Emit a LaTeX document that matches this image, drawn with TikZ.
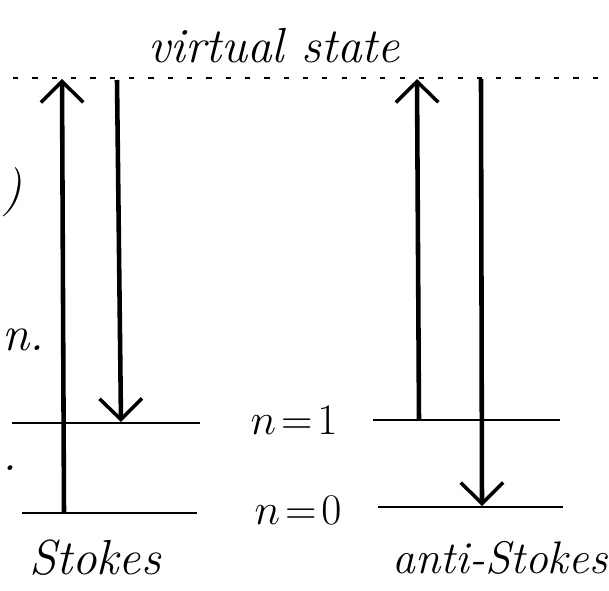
\documentclass[tikz,border=0pt]{standalone}
\usepackage{tikz}
\usetikzlibrary{arrows.meta, positioning}
\tikzset{
  lvl/.style ={line width=1.2pt},
  virt/.style={line width=0.8pt, dash pattern=on 3pt off 8pt},
  tr/.style  ={line width=2.6pt, -{Straight Barb[length=4.2mm, width=8.5mm, line width=2pt]}},
  lbl/.style ={font=\fontsize{28}{32}\selectfont\itshape, inner sep=1pt},
  lvlbl/.style={font=\fontsize{26}{30}\selectfont, inner sep=1pt},
}
\begin{document}
\begin{tikzpicture}[x=0.02cm, y=-0.02cm]
  \useasboundingbox (0,0) rectangle (609,591);
  % energy levels
  \coordinate (vL) at (13,78);   \coordinate (vR) at (609,78);
  \coordinate (s1a) at (12,423); \coordinate (s1b) at (200,423);
  \coordinate (s0a) at (22,513); \coordinate (s0b) at (197,513);
  \coordinate (a1a) at (373,420); \coordinate (a1b) at (560,420);
  \coordinate (a0a) at (378,507); \coordinate (a0b) at (563,507);
  \draw[virt] (vL)--(vR);
  \draw[lvl] (s1a)--(s1b);
  \draw[lvl] (s0a)--(s0b);
  \draw[lvl] (a1a)--(a1b);
  \draw[lvl] (a0a)--(a0b);
  % transitions
  \coordinate (su0) at (64,513); \coordinate (su1) at (62,79);
  \coordinate (sd0) at (117,80); \coordinate (sd1) at (121,422);
  \coordinate (au0) at (419,420); \coordinate (au1) at (417,79);
  \coordinate (ad0) at (481,79);  \coordinate (ad1) at (482,506);
  \draw[tr] (su0)--(su1);
  \draw[tr] (sd0)--(sd1);
  \draw[tr] (au0)--(au1);
  \draw[tr] (ad0)--(ad1);
  % labels
  \node[lbl] (virtual) at (274,46) {virtual state};
  \node[lvlbl] (n1) at (294,420) {$n\!=\!1$};
  \node[lvlbl] (n0) at (298,510) {$n\!=\!0$};
  \node[lbl] (stokes) at (95,558) {Stokes};
  \node[lbl, font=\fontsize{26}{30}\selectfont\itshape] (astokes) at (500,558) {anti-Stokes};
  \node[lbl, anchor=west] (frag1) at (0,340) {n.};
  \node[lbl, anchor=west] (frag2) at (0,192) {)};
  \node[lbl, anchor=west] (frag3) at (0,468) {.};
\end{tikzpicture}
\end{document}
